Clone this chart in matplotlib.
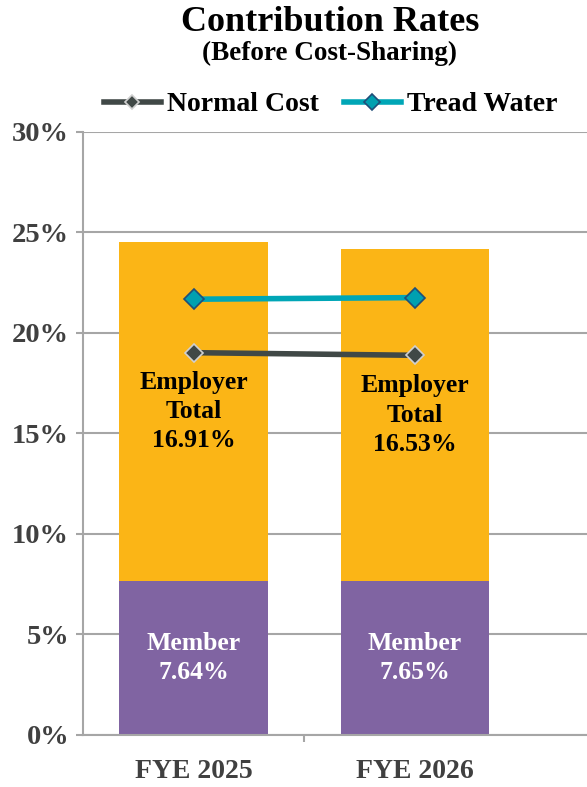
import matplotlib.pyplot as plt
from matplotlib.ticker import FuncFormatter

plt.rcParams['font.family'] = ['Liberation Serif', 'DejaVu Serif']
plt.rcParams['font.weight'] = 'bold'

# data (percent)
years = ['FYE 2025', 'FYE 2026']
member = [7.64, 7.65]
employer = [16.91, 16.53]
normal_cost = [19.02, 18.89]
tread_water = [21.68, 21.76]

purple = '#8064A2'
orange = '#FBB516'
grid_c = '#A6A6A6'
txt_c = '#404040'

fig = plt.figure(figsize=(5.87, 7.87), dpi=100)
ax = fig.add_axes([0.1414, 0.0661, 0.8586, 0.7662])

x = range(len(years))
ax.bar(x, member, width=0.67, color=purple, zorder=2)
ax.bar(x, employer, width=0.67, bottom=member, color=orange, zorder=2)

ax.plot(x, normal_cost, color='#404846', lw=4, marker='D', ms=9,
        mfc='#404846', mec='#D0D0D0', mew=1.2, zorder=3, label='Normal Cost')
ax.plot(x, tread_water, color='#00A6B6', lw=4, marker='D', ms=10,
        mfc='#00A0B0', mec='#1F4E79', mew=1.2, zorder=3, label='Tread Water')

for i in x:
    ax.text(i, member[i] / 2, f'Member\n{member[i]:.2f}%', ha='center', va='center',
            color='white', fontsize=18.5, fontweight='bold', linespacing=1.34, zorder=4)
    ax.text(i, member[i] + employer[i] / 2, f'Employer\nTotal\n{employer[i]:.2f}%',
            ha='center', va='center', color='black', fontsize=18.5, fontweight='bold',
            linespacing=1.34, zorder=4)

ax.set_ylim(0, 30)
ax.set_xlim(-0.5, 1.78)
ax.set_yticks(range(0, 31, 5))
ax.yaxis.set_major_formatter(FuncFormatter(lambda v, p: f'{v:.0f}%'))
ax.set_xticks(list(x))
ax.set_xticklabels(years)
ax.set_xticks([0.5], minor=True)
ax.tick_params(axis='x', which='major', length=0, pad=17, labelsize=20, labelcolor=txt_c)
ax.tick_params(axis='x', which='minor', length=5, width=1.5, color=grid_c)
ax.tick_params(axis='y', length=5, width=1.5, color=grid_c, labelsize=20.5,
               labelcolor=txt_c, pad=5)
ax.grid(axis='y', color=grid_c, lw=1.5, zorder=1)
ax.set_axisbelow(True)
for s in ['top', 'right']:
    ax.spines[s].set_visible(False)
for s in ['left', 'bottom']:
    ax.spines[s].set_color(grid_c)
    ax.spines[s].set_linewidth(1.5)

fig.text(0.562, 0.972, 'Contribution Rates', ha='center', va='center',
         fontsize=26, fontweight='bold')
fig.text(0.562, 0.932, '(Before Cost-Sharing)', ha='center', va='center',
         fontsize=19.5, fontweight='bold')
fig.legend(loc='center', bbox_to_anchor=(0.563, 0.867), ncol=2, frameon=False,
           fontsize=20, handlelength=2.05, columnspacing=0.9, handletextpad=0.22,
           markerscale=0.8)

fig.savefig('out.png', dpi=100)
